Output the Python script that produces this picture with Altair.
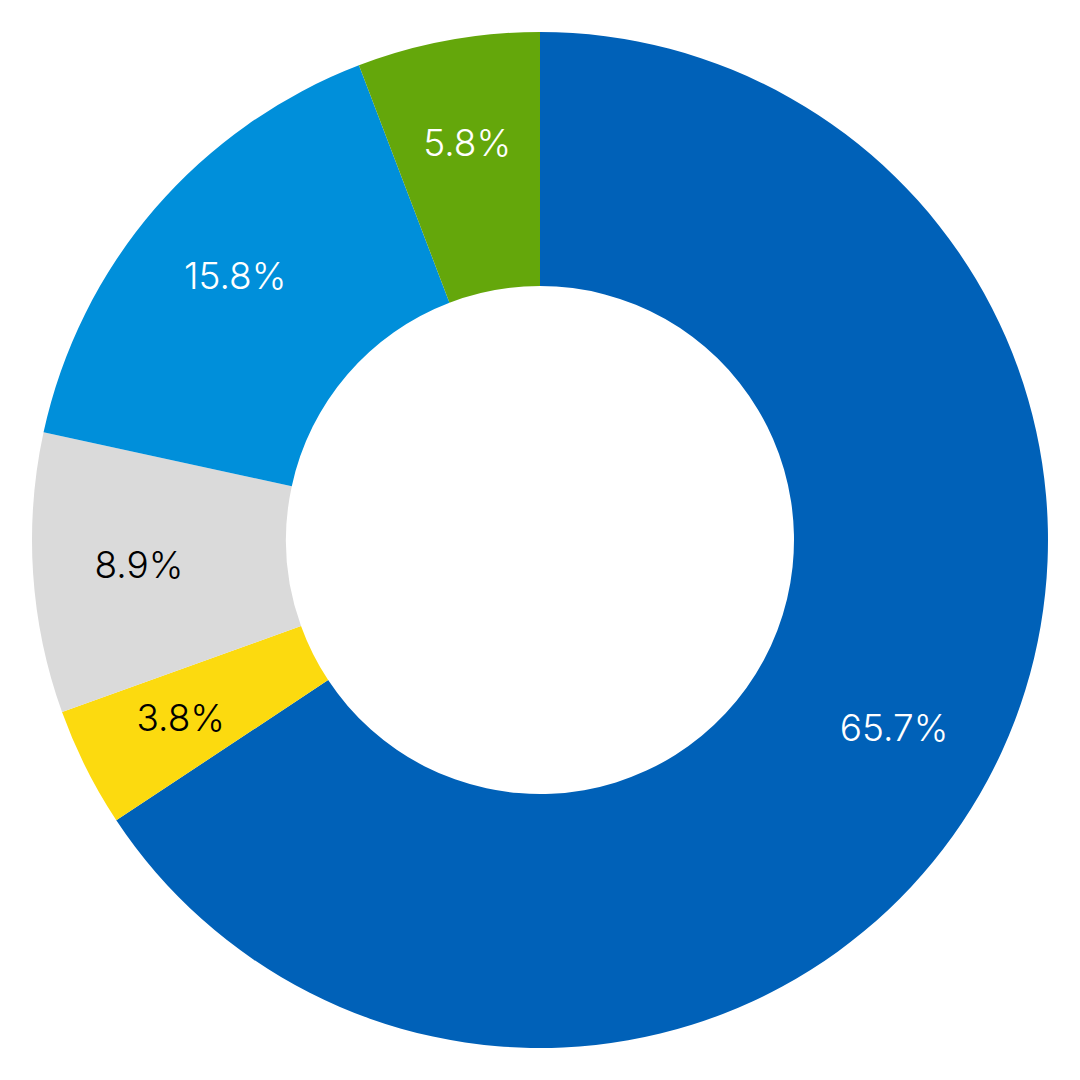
import altair as alt
import pandas as pd

labels = ["65.7%", "3.8%", "8.9%", "15.8%", "5.8%"]
values = [65.7, 3.8, 8.9, 15.8, 5.8]
colors = ["#0061B8", "#FCDA0F", "#DADADA", "#008FDA", "#64A70B"]
text_colors = ["#FFFFFF", "#000000", "#000000", "#FFFFFF", "#FFFFFF"]

df = pd.DataFrame({
    "label": labels,
    "value": values,
    "order": list(range(len(values))),
    "tcolor": text_colors,
})

base = alt.Chart(df).encode(
    theta=alt.Theta("value:Q", stack=True),
    order=alt.Order("order:Q", sort="ascending"),
)

arcs = base.mark_arc(outerRadius=508, innerRadius=254, strokeWidth=0).encode(
    color=alt.Color("label:N", scale=alt.Scale(domain=labels, range=colors), legend=None)
)

text = base.mark_text(radius=402, fontSize=37, font="Inter", fontWeight=300).encode(
    text="label:N",
    color=alt.Color("tcolor:N", scale=None),
)

chart = alt.layer(arcs, text).properties(
    width=1064, height=1064, padding=0, autosize=alt.AutoSizeParams(type="none")
).configure_view(stroke=None).configure(background="#FFFFFF")

chart.save("out.html", embed_options={"renderer": "svg", "actions": False})
